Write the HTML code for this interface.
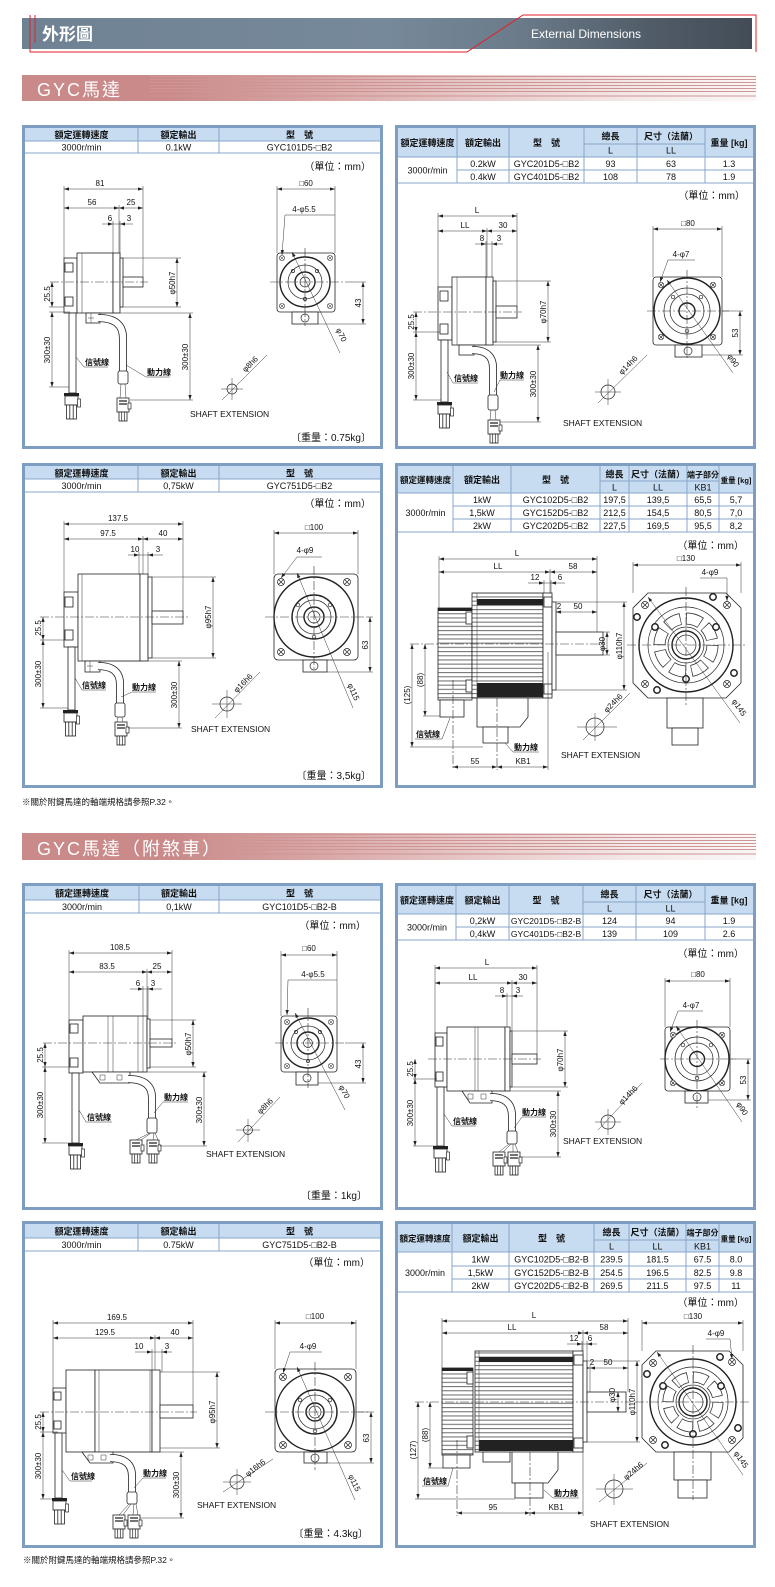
<!DOCTYPE html>
<html><head><meta charset="utf-8">
<style>
html,body{margin:0;padding:0;background:#fff;}
body{width:775px;height:1587px;position:relative;overflow:hidden;font-family:"Liberation Sans","Noto Sans CJK TC",sans-serif;}
.hb{position:absolute;left:22px;top:18px;width:730px;height:31px;background:linear-gradient(90deg,#6f8294 0%,#76899a 50%,#6b7b8a 68%,#515c68 86%,#434c57 100%);}
.sb{position:absolute;left:22px;width:734px;height:26px;background:linear-gradient(90deg,#c98a89 0%,#c98a89 20%,#d6a3a2 38%,#e6c6c6 60%,#f3e6e6 82%,#fbf7f7 100%);}
svg{position:absolute;left:0;top:0;}
.pb{fill:#fff;stroke:#7d9dc1;stroke-width:3}
.tl{fill:none;stroke:#87a5c8;stroke-width:1}
.th{font:bold 9px "Liberation Sans","Noto Sans CJK TC",sans-serif;text-anchor:middle;fill:#111}
.td{font:9px "Liberation Sans","Noto Sans CJK TC",sans-serif;text-anchor:middle;fill:#111}
.un{font:10px "Liberation Sans","Noto Sans CJK TC",sans-serif;text-anchor:end;fill:#111}
.dt{font:8px "Liberation Sans","Noto Sans CJK TC",sans-serif;text-anchor:middle;fill:#111}
.lb{font:bold 8px "Liberation Sans","Noto Sans CJK TC",sans-serif;fill:#111}
.se{font:8.5px "Liberation Sans",sans-serif;fill:#111}
.nt{font:8.5px "Liberation Sans","Noto Sans CJK TC",sans-serif;fill:#111}
.o{fill:#fff;stroke:#222;stroke-width:.8}
.of{fill:url(#fin);stroke:#222;stroke-width:.8}
.o2{fill:none;stroke:#222;stroke-width:1.4}
.ol{fill:none;stroke:#222;stroke-width:.7}
.l{fill:none;stroke:#333;stroke-width:.5}
.d{fill:none;stroke:#333;stroke-width:.5;marker-start:url(#a);marker-end:url(#a)}
.e{fill:none;stroke:#333;stroke-width:.5;marker-end:url(#a)}
.c{fill:none;stroke:#333;stroke-width:.6;stroke-dasharray:9 2 2 2}
.cb1{fill:none;stroke:#222;stroke-width:8}
.cb2{fill:none;stroke:#fff;stroke-width:6.4}
.dk{fill:#222}
</style></head><body>
<div class="hb"></div>
<div class="sb" style="top:75px"></div>
<div class="sb" style="top:833px;height:27px"></div>
<svg width="775" height="1587" viewBox="0 0 775 1587">
<defs>
<marker id="a" viewBox="0 0 6 4" markerWidth="5" markerHeight="3.4" refX="6" refY="2" orient="auto-start-reverse" markerUnits="userSpaceOnUse"><path d="M0,0L6,2L0,4z" fill="#222"/></marker>
<pattern id="fin" width="6" height="4.2" patternUnits="userSpaceOnUse"><rect width="6" height="4.2" fill="#fff"/><rect width="6" height="1.1" fill="#777"/></pattern>
<g id="sc">
<rect x="0" y="0" width="15" height="3" fill="#222"/>
<rect x="1" y="3" width="13" height="9" fill="#fff" stroke="#222" stroke-width=".8"/>
<rect x="13.5" y="6" width="3" height="8" fill="#fff" stroke="#222" stroke-width=".7"/>
<rect x="2.5" y="12" width="10" height="14" fill="#fff" stroke="#222" stroke-width=".8"/>
<path d="M5.8,12v14M9.2,12v14" stroke="#222" stroke-width=".8"/>
</g>
<g id="pc">
<rect x="0" y="0" width="12" height="14" fill="#fff" stroke="#222" stroke-width=".8"/>
<path d="M2,3h8M2,6h8" stroke="#222" stroke-width="1.2"/>
<rect x="11" y="5" width="3" height="6" fill="#fff" stroke="#222" stroke-width=".7"/>
<rect x="2" y="14" width="8" height="9" fill="#fff" stroke="#222" stroke-width=".8"/>
<path d="M4.7,14v9M7.3,14v9" stroke="#222" stroke-width=".7"/>
</g>
<g id="xh"><circle r="3.5" fill="#fff" stroke="#222" stroke-width=".7"/><path d="M-2.5,-2.5L2.5,2.5M-2.5,2.5L2.5,-2.5" stroke="#222" stroke-width=".7"/></g>
</defs>

<!-- header -->
<path d="M30,15V52H467L523,15H756V52M35,15V43" fill="none" stroke="#e0202a" stroke-width="1"/>
<text x="42" y="40" font-size="17" font-weight="bold" fill="#fff" font-family="Liberation Sans, Noto Sans CJK TC, sans-serif">外形圖</text>
<text x="531" y="38" font-size="12" fill="#fff" font-family="Liberation Sans, sans-serif">External Dimensions</text>

<!-- section bars -->
<g stroke="#cf9494" stroke-width="1">
<path d="M150,76.5H756M150,79.5H756M150,82.5H756M150,85.5H756M150,88.5H756M150,91.5H756M150,96H756"/>
<path d="M230,834.5H756M230,837.5H756M230,840.5H756M230,843.5H756M230,846.5H756M230,849.5H756M230,854H756"/>
</g>
<text x="37" y="96" font-size="18" fill="#fff" letter-spacing="2" font-family="Liberation Sans, Noto Sans CJK TC, sans-serif">GYC馬達</text>
<text x="37" y="855" font-size="18" fill="#fff" letter-spacing="2" font-family="Liberation Sans, Noto Sans CJK TC, sans-serif">GYC馬達（附煞車）</text>

<text class="nt" x="22" y="805">※關於附鍵馬達的軸端規格請參照P.32。</text>
<text class="nt" x="23" y="1563">※關於附鍵馬達的軸端規格請參照P.32。</text>

<!-- ================= PANEL A ================= -->
<rect class="pb" x="23.5" y="126.5" width="358" height="321"/>
<rect x="25" y="128" width="355" height="13" fill="#c7dcf1"/>
<path class="tl" d="M25,141H380M25,153H380M138,128V153M219,128V153"/>
<text class="th" x="81.5" y="138">額定運轉速度</text>
<text class="th" x="178.5" y="138">額定輸出</text>
<text class="th" x="299.5" y="138">型　號</text>
<text class="td" x="81.5" y="150.5">3000r/min</text>
<text class="td" x="178.5" y="150.5">0.1kW</text>
<text class="td" x="299.5" y="150.5">GYC101D5-□B2</text>
<text class="un" x="371" y="170">（單位：mm）</text>
<path class="l" d="M64,186V258M143,186V277M119,205V253M113,221V253M120,221V258"/>
<path class="d" d="M64,189H143"/>
<path class="d" d="M64,208H119"/><path class="d" d="M119,208H143"/>
<path class="e" d="M102,224H113"/><path class="l" d="M113,224H120"/><path class="e" d="M133,224H120"/>
<text class="dt" x="100" y="186">81</text>
<text class="dt" x="92" y="205">56</text><text class="dt" x="131" y="205">25</text>
<text class="dt" x="110" y="221">6</text><text class="dt" x="129" y="221">3</text>
<rect class="o" x="64" y="258" width="13" height="55"/>
<rect class="o" x="65" y="263" width="8" height="9"/><rect class="o" x="65" y="297" width="8" height="9"/>
<rect class="o" x="77" y="253" width="36" height="60"/>
<path class="l" d="M82,253V313"/>
<rect class="o" x="113" y="253" width="7" height="60"/>
<rect class="o" x="120" y="258" width="3" height="49"/>
<rect class="o" x="123" y="277" width="20" height="10"/>
<path class="c" d="M50,282H148"/>
<path class="l" d="M123,258H181M123,307H181"/>
<path class="d" d="M177,258V307"/>
<text class="dt" transform="translate(175,283) rotate(-90)">φ50h7</text>
<path class="l" d="M49,307H64M49,312H70M49,387H70"/>
<path class="d" d="M52,282V307"/><path class="d" d="M52,312V387"/>
<text class="dt" transform="translate(50,294) rotate(-90)">25.5</text>
<text class="dt" transform="translate(50,350) rotate(-90)">300±30</text>
<rect class="o" x="69" y="313" width="7" height="80"/>
<use href="#sc" x="64" y="393"/>
<path class="l" d="M76,357L84,367H108"/>
<text class="lb" x="85" y="365">信號線</text>
<rect class="o" x="86" y="313" width="14" height="10"/>
<path class="l" d="M91,313v10M88,318h6"/>
<path class="cb1" d="M98,318Q123,318 123,338V372"/>
<path class="cb2" d="M98,318Q123,318 123,338V372"/>
<rect class="o" x="118" y="371" width="10" height="13" rx="2"/>
<path class="l" d="M121,384l-1,14M125,384l1,14"/>
<use href="#pc" x="117" y="398"/>
<path class="l" d="M126,365L146,377H170"/>
<text class="lb" x="147" y="375">動力線</text>
<path class="l" d="M100,313H193M130,400H193"/>
<path class="d" d="M190,313V400"/>
<text class="dt" transform="translate(188,357) rotate(-90)">300±30</text>
<rect class="o" x="277" y="253" width="58" height="59" rx="3"/>
<circle class="o2" cx="305" cy="282" r="25"/>
<circle class="ol" cx="305" cy="282" r="17"/>
<circle class="o2" cx="305" cy="282" r="10"/>
<circle class="ol" cx="305" cy="282" r="5"/>
<use href="#xh" transform="translate(282,258) scale(.75)"/><use href="#xh" transform="translate(330,258) scale(.75)"/>
<use href="#xh" transform="translate(282,306) scale(.75)"/><use href="#xh" transform="translate(330,306) scale(.75)"/>
<circle class="ol" cx="293" cy="271" r="1.6"/><circle class="ol" cx="317" cy="271" r="1.6"/><circle class="ol" cx="305" cy="299" r="1.6"/>
<rect class="o" x="292" y="312" width="26" height="12"/>
<circle class="ol" cx="305" cy="318" r="4"/>
<path class="c" d="M270,282H345M305,248V326"/>
<path class="l" d="M277,186V253M335,186V253"/>
<path class="d" d="M277,189H335"/>
<text class="dt" x="306" y="186">□60</text>
<text class="dt" x="304" y="212">4-φ5.5</text>
<path class="l" d="M285,215H335"/><path class="e" d="M285,215L282,255"/>
<path class="l" d="M345,282H366M318,324H366"/>
<path class="d" d="M363,282V324"/>
<text class="dt" transform="translate(361,303) rotate(-90)">43</text>
<path class="e" d="M340,353L292,252"/>
<text class="dt" transform="translate(339,336) rotate(64)">φ70</text>
<circle class="ol" cx="232" cy="389" r="5"/>
<path class="l" d="M221,389H243M232,378V400"/>
<path class="l" d="M222,400L267,355"/>
<text class="dt" transform="translate(252,366) rotate(-45)">φ8h6</text>
<text class="se" x="190" y="417">SHAFT EXTENSION</text>
<text class="un" x="371" y="441">〔重量：0.75kg〕</text>

<!-- ================= PANEL B ================= -->
<rect class="pb" x="396.5" y="126.5" width="358" height="321"/>
<rect x="398" y="128" width="355" height="29" fill="#c7dcf1"/>
<path class="tl" d="M584,144H705M398,157H753M457,170H753M398,183H753M457,128V183M509,128V183M584,128V183M637,128V183M705,128V183"/>
<text class="th" x="427.5" y="146">額定運轉速度</text>
<text class="th" x="483" y="146">額定輸出</text>
<text class="th" x="546.5" y="146">型　號</text>
<text class="th" x="610.5" y="139.5">總長</text>
<text class="td" x="610.5" y="153.5">L</text>
<text class="th" x="671" y="139.5">尺寸（法蘭）</text>
<text class="td" x="671" y="153.5">LL</text>
<text class="th" x="729" y="146">重量 [kg]</text>
<text class="td" x="427.5" y="173.5">3000r/min</text>
<text class="td" x="483" y="167">0.2kW</text><text class="td" x="546.5" y="167">GYC201D5-□B2</text>
<text class="td" x="610.5" y="167">93</text><text class="td" x="671" y="167">63</text><text class="td" x="729" y="167">1.3</text>
<text class="td" x="483" y="180">0.4kW</text><text class="td" x="546.5" y="180">GYC401D5-□B2</text>
<text class="td" x="610.5" y="180">108</text><text class="td" x="671" y="180">78</text><text class="td" x="729" y="180">1.9</text>
<text class="un" x="745" y="199">（單位：mm）</text>
<path class="l" d="M438,213V287M517,213V306M487,228V277M486,241V277M492,241V281"/>
<path class="d" d="M438,216H517"/>
<path class="d" d="M438,231H487"/><path class="d" d="M487,231H517"/>
<path class="e" d="M475,244H486"/><path class="l" d="M486,244H492"/><path class="e" d="M503,244H492"/>
<text class="dt" x="477" y="213">L</text>
<text class="dt" x="465" y="228">LL</text><text class="dt" x="503" y="228">30</text>
<text class="dt" x="482" y="241">8</text><text class="dt" x="499" y="241">3</text>
<rect class="o" x="438" y="287" width="14" height="53"/>
<rect class="o" x="440" y="291" width="8" height="10"/><rect class="o" x="440" y="324" width="8" height="10"/>
<rect class="o" x="452" y="277" width="34" height="68"/>
<path class="l" d="M457,277V345"/>
<rect class="o" x="486" y="277" width="7" height="68"/>
<rect class="o" x="493" y="281" width="3" height="61"/>
<rect class="o" x="496" y="306" width="21" height="12"/>
<path class="c" d="M413,312H522"/>
<path class="l" d="M496,281H551M496,342H551"/>
<path class="d" d="M548,281V342"/>
<text class="dt" transform="translate(546,312) rotate(-90)">φ70h7</text>
<path class="l" d="M413,332H440M413,400H444"/>
<path class="d" d="M416,312V332"/><path class="d" d="M416,332V400"/>
<text class="dt" transform="translate(414,322) rotate(-90)">25.5</text>
<text class="dt" transform="translate(414,366) rotate(-90)">300±30</text>
<rect class="o" x="441" y="340" width="7" height="62"/>
<use href="#sc" x="437" y="402"/>
<path class="l" d="M447,372L453,383H478"/>
<text class="lb" x="454" y="381">信號線</text>
<rect class="o" x="459" y="345" width="15" height="10"/>
<path class="cb1" d="M472,350Q493,350 493,368V396"/>
<path class="cb2" d="M472,350Q493,350 493,368V396"/>
<rect class="o" x="488" y="395" width="10" height="15" rx="2"/>
<path class="l" d="M491,410l-1,10M495,410l1,10"/>
<use href="#pc" x="488" y="420"/>
<path class="l" d="M494,392L500,380H524"/>
<text class="lb" x="500" y="378">動力線</text>
<path class="l" d="M474,345H541M500,422H541"/>
<path class="d" d="M538,345V422"/>
<text class="dt" transform="translate(536,384) rotate(-90)">300±30</text>
<rect class="o" x="653" y="277" width="69" height="68" rx="3"/>
<circle class="o2" cx="687" cy="311" r="33"/>
<circle class="ol" cx="687" cy="311" r="23"/>
<circle class="ol" cx="687" cy="311" r="17"/>
<circle class="o2" cx="687" cy="311" r="8"/>
<use href="#xh" transform="translate(661,285) scale(.8)"/><use href="#xh" transform="translate(713,285) scale(.8)"/>
<use href="#xh" transform="translate(661,337) scale(.8)"/><use href="#xh" transform="translate(713,337) scale(.8)"/>
<circle class="ol" cx="673" cy="297" r="1.8"/><circle class="ol" cx="701" cy="297" r="1.8"/><circle class="ol" cx="687" cy="331" r="1.8"/>
<rect class="o" x="675" y="345" width="27" height="12"/>
<circle class="ol" cx="688" cy="351" r="4"/>
<path class="c" d="M647,311H729M687,270V360"/>
<path class="l" d="M653,226V277M722,226V277"/>
<path class="d" d="M653,229H722"/>
<text class="dt" x="688" y="226">□80</text>
<text class="dt" x="681" y="257">4-φ7</text>
<path class="l" d="M668,260H695"/><path class="e" d="M668,260L660,282"/>
<path class="l" d="M722,311H743M702,355H743"/>
<path class="d" d="M740,311V355"/>
<text class="dt" transform="translate(738,333) rotate(-90)">53</text>
<path class="e" d="M733,373L667,280"/>
<text class="dt" transform="translate(731,362) rotate(55)">φ90</text>
<circle class="ol" cx="608" cy="392" r="7"/>
<path class="l" d="M595,392H621M608,379V405"/>
<path class="l" d="M598,403L647,355"/>
<text class="dt" transform="translate(630,367) rotate(-45)">φ14h6</text>
<text class="se" x="563" y="426">SHAFT EXTENSION</text>

<!-- ================= PANEL C ================= -->
<rect class="pb" x="23.5" y="464.5" width="358" height="322"/>
<rect x="25" y="466" width="355" height="13" fill="#c7dcf1"/>
<path class="tl" d="M25,479H380M25,492H380M138,466V492M219,466V492"/>
<text class="th" x="81.5" y="476.5">額定運轉速度</text>
<text class="th" x="178.5" y="476.5">額定輸出</text>
<text class="th" x="299.5" y="476.5">型　號</text>
<text class="td" x="81.5" y="489">3000r/min</text>
<text class="td" x="178.5" y="489">0,75kW</text>
<text class="td" x="299.5" y="489">GYC751D5-□B2</text>
<text class="un" x="371" y="507">（單位：mm）</text>
<path class="l" d="M64,521V592M183,521V611M143,536V574M139,552V574M148,552V577"/>
<path class="d" d="M64,524H183"/>
<path class="d" d="M64,539H143"/><path class="d" d="M143,539H183"/>
<path class="e" d="M128,555H139"/><path class="l" d="M139,555H148"/><path class="e" d="M163,555H148"/>
<text class="dt" x="118" y="521">137.5</text>
<text class="dt" x="108" y="536">97.5</text><text class="dt" x="163" y="536">40</text>
<text class="dt" x="135" y="552">10</text><text class="dt" x="158" y="552">3</text>
<rect class="o" x="64" y="592" width="14" height="55"/>
<rect class="o" x="65" y="597" width="8" height="10"/><rect class="o" x="65" y="630" width="8" height="10"/>
<rect class="o" x="78" y="574" width="62" height="87"/>
<path class="l" d="M82,574V661"/>
<rect class="o" x="140" y="574" width="8" height="87"/>
<rect class="o" x="148" y="577" width="4" height="81"/>
<rect class="o" x="152" y="611" width="31" height="13"/>
<path class="c" d="M40,617H190"/>
<path class="l" d="M152,577H216M152,658H216"/>
<path class="d" d="M213,577V658"/>
<text class="dt" transform="translate(211,617) rotate(-90)">φ95h7</text>
<path class="l" d="M40,640H66M40,708H70"/>
<path class="d" d="M43,617V640"/><path class="d" d="M43,640V708"/>
<text class="dt" transform="translate(41,628) rotate(-90)">25.5</text>
<text class="dt" transform="translate(41,674) rotate(-90)">300±30</text>
<rect class="o" x="68" y="647" width="7" height="63"/>
<use href="#sc" x="63" y="710"/>
<path class="l" d="M75,678L82,690H106"/>
<text class="lb" x="82" y="688">信號線</text>
<rect class="o" x="85" y="661" width="15" height="11"/>
<path class="l" d="M90,661v11M87,666h6"/>
<path class="cb1" d="M98,666Q120,666 120,684V704"/>
<path class="cb2" d="M98,666Q120,666 120,684V704"/>
<rect class="o" x="115" y="703" width="10" height="14" rx="2"/>
<path class="l" d="M118,717l-1,5M122,717l1,5"/>
<use href="#pc" x="115" y="722"/>
<path class="l" d="M121,697L132,692H156"/>
<text class="lb" x="132" y="690">動力線</text>
<path class="l" d="M100,661H182M128,728H182"/>
<path class="d" d="M179,661V728"/>
<text class="dt" transform="translate(177,695) rotate(-90)">300±30</text>
<rect class="o" x="274" y="574" width="84" height="86" rx="4"/>
<circle class="o2" cx="314" cy="617" r="40"/>
<circle class="o2" cx="314" cy="617" r="22"/>
<circle class="ol" cx="314" cy="617" r="17"/>
<circle class="o2" cx="314" cy="617" r="10"/>
<circle class="ol" cx="314" cy="617" r="6"/>
<use href="#xh" x="281" y="582"/><use href="#xh" x="347" y="582"/>
<use href="#xh" x="281" y="652"/><use href="#xh" x="347" y="652"/>
<circle class="ol" cx="298" cy="605" r="1.8"/><circle class="ol" cx="330" cy="605" r="1.8"/><circle class="ol" cx="314" cy="637" r="1.8"/>
<rect class="o" x="303" y="660" width="24" height="12"/>
<circle class="ol" cx="314" cy="666" r="4"/>
<path class="c" d="M265,617H366M314,566V670"/>
<path class="l" d="M274,530V574M358,530V574"/>
<path class="d" d="M274,533H358"/>
<text class="dt" x="314" y="530">□100</text>
<text class="dt" x="305" y="553">4-φ9</text>
<path class="l" d="M297,557H322"/><path class="e" d="M297,557L281,578"/>
<path class="l" d="M366,617H373M327,672H373"/>
<path class="d" d="M370,617V672"/>
<text class="dt" transform="translate(368,645) rotate(-90)">63</text>
<path class="e" d="M353,708L297,573"/>
<text class="dt" transform="translate(351,693) rotate(66)">φ115</text>
<circle class="ol" cx="227" cy="704" r="7"/>
<path class="l" d="M212,704H242M227,690V718"/>
<path class="l" d="M215,718L260,672"/>
<text class="dt" transform="translate(245,685) rotate(-45)">φ16h6</text>
<text class="se" x="191" y="732">SHAFT EXTENSION</text>
<text class="un" x="371" y="779">〔重量：3,5kg〕</text>

<!-- ================= PANEL D ================= -->
<rect class="pb" x="396.5" y="464.5" width="358" height="322"/>
<rect x="398" y="466" width="355" height="27" fill="#c7dcf1"/>
<path class="tl" d="M600,481H719M398,493H753M453,506H753M453,519H753M398,532H753M453,466V532M511,466V532M600,466V532M629,466V532M687,466V532M719,466V532"/>
<text class="th" x="425.5" y="483" style="font-size:8.5px">額定運轉速度</text>
<text class="th" x="482" y="483">額定輸出</text>
<text class="th" x="555.5" y="483">型　號</text>
<text class="th" x="614.5" y="477.5">總長</text><text class="td" x="614.5" y="490.5">L</text>
<text class="th" x="658" y="477.5">尺寸（法蘭）</text><text class="td" x="658" y="490.5">LL</text>
<text class="th" x="703" y="477.5" style="font-size:8px">端子部分</text><text class="td" x="703" y="490.5">KB1</text>
<text class="th" x="736" y="483" style="font-size:7.5px">重量 [kg]</text>
<text class="td" x="425.5" y="516">3000r/min</text>
<text class="td" x="482" y="503">1kW</text><text class="td" x="555.5" y="503">GYC102D5-□B2</text><text class="td" x="614.5" y="503">197,5</text><text class="td" x="658" y="503">139,5</text><text class="td" x="703" y="503">65,5</text><text class="td" x="736" y="503">5,7</text>
<text class="td" x="482" y="516">1,5kW</text><text class="td" x="555.5" y="516">GYC152D5-□B2</text><text class="td" x="614.5" y="516">212,5</text><text class="td" x="658" y="516">154,5</text><text class="td" x="703" y="516">80,5</text><text class="td" x="736" y="516">7,0</text>
<text class="td" x="482" y="529">2kW</text><text class="td" x="555.5" y="529">GYC202D5-□B2</text><text class="td" x="614.5" y="529">227,5</text><text class="td" x="658" y="529">169,5</text><text class="td" x="703" y="529">95,5</text><text class="td" x="736" y="529">8,2</text>
<text class="un" x="744" y="549">（單位：mm）</text>
<path class="l" d="M439,556V608M597,556V632M550,569V593M544,580V593M551,580V602M556,609V632"/>
<path class="d" d="M439,559H597"/>
<path class="d" d="M439,572H550"/><path class="d" d="M550,572H597"/>
<path class="e" d="M528,583H544"/><path class="l" d="M544,583H551"/><path class="e" d="M565,583H551"/>
<path class="e" d="M548,612H556"/><path class="d" d="M556,612H597"/>
<text class="dt" x="517" y="556">L</text>
<text class="dt" x="498" y="569">LL</text><text class="dt" x="573" y="569">58</text>
<text class="dt" x="535" y="580">12</text><text class="dt" x="560" y="580">6</text>
<text class="dt" x="559" y="609">2</text><text class="dt" x="578" y="609">50</text>
<rect class="of" x="438" y="608" width="34" height="92"/>
<rect class="dk" x="438" y="608" width="34" height="3"/>
<rect class="o" x="466" y="612" width="6" height="12"/><rect class="o" x="466" y="680" width="6" height="12"/>
<rect class="o" x="440" y="700" width="24" height="17"/>
<rect class="of" x="472" y="593" width="71" height="105"/>
<rect class="dk" x="477" y="599" width="66" height="6"/>
<rect class="dk" x="477" y="683" width="66" height="14"/>
<path class="l" d="M477,593V698"/>
<rect class="o" x="543" y="593" width="9" height="105"/>
<rect class="o" x="544" y="597" width="8" height="10"/><rect class="o" x="544" y="684" width="8" height="10"/>
<rect class="o" x="552" y="602" width="4" height="88"/>
<rect class="o" x="556" y="632" width="47" height="23"/>
<path class="o" d="M477,698H528V717L520,727H477Z"/>
<rect class="o" x="483" y="727" width="25" height="16"/>
<path class="c" d="M410,644H604"/>
<path class="c" d="M497,698V770M453,680V770"/>
<path class="l" d="M556,602H627M556,690H627M603,632H610M603,655H610"/>
<path class="d" d="M607,632V655"/><path class="d" d="M624,602V690"/>
<text class="dt" transform="translate(605,644) rotate(-90)">φ30</text>
<text class="dt" transform="translate(622,646) rotate(-90)">φ110h7</text>
<path class="l" d="M410,747H483M423,716H440"/>
<path class="d" d="M412,644V747"/><path class="d" d="M425,644V716"/>
<text class="dt" transform="translate(410,695) rotate(-90)">(125)</text>
<text class="dt" transform="translate(423,680) rotate(-90)">(88)</text>
<path class="l" d="M450,718L442,739H415"/>
<text class="lb" x="416" y="737">信號線</text>
<path class="l" d="M505,743L513,752H539"/>
<text class="lb" x="514" y="750">動力線</text>
<path class="l" d="M548,652V770"/>
<path class="d" d="M453,767H497"/><path class="d" d="M497,767H548"/>
<text class="dt" x="475" y="764">55</text><text class="dt" x="523" y="764">KB1</text>
<path class="o" d="M648,593H726L741,608V683L726,698H648L633,683V608Z"/>
<circle class="o2" cx="686" cy="645" r="47"/>
<circle class="ol" cx="686" cy="645" r="38"/>
<circle cx="686" cy="645" r="26.5" fill="none" stroke="#333" stroke-width="12" stroke-dasharray="15.3 5.5"/>
<circle cx="686" cy="645" r="26.5" fill="none" stroke="#fff" stroke-width="10.4" stroke-dasharray="13.9 6.9" stroke-dashoffset="-0.7"/>
<circle class="ol" cx="686" cy="645" r="18"/>
<circle class="o2" cx="686" cy="645" r="14"/>
<circle class="ol" cx="686" cy="645" r="10"/>
<use href="#xh" x="645" y="605"/><use href="#xh" x="727" y="605"/><use href="#xh" x="645" y="684"/><use href="#xh" x="727" y="684"/>
<circle cx="637" cy="617" r="3.2" fill="#fff" stroke="#222" stroke-width="1.5"/><circle cx="713" cy="597" r="3.2" fill="#fff" stroke="#222" stroke-width="1.5"/>
<circle cx="734" cy="673" r="3.2" fill="#fff" stroke="#222" stroke-width="1.5"/><circle cx="657" cy="690" r="3.2" fill="#fff" stroke="#222" stroke-width="1.5"/>
<circle cx="655" cy="627" r="3.2" fill="#fff" stroke="#222" stroke-width="1.5"/><circle cx="716" cy="627" r="3.2" fill="#fff" stroke="#222" stroke-width="1.5"/><circle cx="686" cy="679" r="3.2" fill="#fff" stroke="#222" stroke-width="1.5"/>
<rect class="o" x="667" y="698" width="36" height="30"/>
<rect class="o" x="672" y="728" width="26" height="17"/>
<path class="c" d="M627,645H745M686,587V705"/>
<path class="l" d="M633,562V593M741,562V593"/>
<path class="d" d="M633,565H741"/>
<text class="dt" x="686" y="561">□130</text>
<text class="dt" x="710" y="575">4-φ9</text>
<path class="l" d="M700,578H727"/><path class="e" d="M727,578V601"/>
<path class="e" d="M740,723L648,597"/>
<text class="dt" transform="translate(737,709) rotate(55)">φ145</text>
<circle class="ol" cx="595" cy="727" r="9"/>
<path class="l" d="M577,727H617M595,713V741"/>
<path class="l" d="M583,740L630,693"/>
<text class="dt" transform="translate(615,705) rotate(-45)">φ24h6</text>
<text class="se" x="561" y="758">SHAFT EXTENSION</text>

<!-- ================= PANEL E ================= -->
<rect class="pb" x="23.5" y="884.5" width="358" height="324"/>
<rect x="25" y="886" width="355" height="14" fill="#c7dcf1"/>
<path class="tl" d="M25,900H380M25,913H380M139,886V913M219,886V913"/>
<text class="th" x="82" y="896.5">額定運轉速度</text>
<text class="th" x="179" y="896.5">額定輸出</text>
<text class="th" x="299.5" y="896.5">型　號</text>
<text class="td" x="82" y="910">3000r/min</text>
<text class="td" x="179" y="910">0,1kW</text>
<text class="td" x="299.5" y="910">GYC101D5-□B2-B</text>
<text class="un" x="366" y="929">（單位：mm）</text>
<path class="l" d="M69,950V1020M172,950V1040M147,969V1016M143,986V1016M148,986V1019"/>
<path class="d" d="M69,953H172"/>
<path class="d" d="M69,972H147"/><path class="d" d="M147,972H172"/>
<path class="e" d="M130,989H143"/><path class="l" d="M143,989H148"/><path class="e" d="M162,989H148"/>
<text class="dt" x="120" y="950">108.5</text>
<text class="dt" x="107" y="969">83.5</text><text class="dt" x="157" y="969">25</text>
<text class="dt" x="138" y="986">6</text><text class="dt" x="153" y="986">3</text>
<rect class="o" x="69" y="1020" width="14" height="53"/>
<rect class="o" x="70" y="1024" width="8" height="9"/><rect class="o" x="70" y="1058" width="8" height="9"/>
<rect class="o" x="83" y="1016" width="64" height="56"/>
<path class="l" d="M108,1016V1072M113,1016V1072M138,1016V1072M143,1016V1072"/>
<rect class="o" x="147" y="1019" width="3" height="49"/>
<rect class="o" x="150" y="1039" width="22" height="8"/>
<path class="c" d="M43,1043H177"/>
<path class="l" d="M150,1020H196M150,1067H196"/>
<path class="d" d="M193,1020V1067"/>
<text class="dt" transform="translate(191,1044) rotate(-90)">φ50h7</text>
<path class="l" d="M42,1067H69M42,1143H72"/>
<path class="d" d="M45,1043V1067"/><path class="d" d="M45,1067V1143"/>
<text class="dt" transform="translate(43,1055) rotate(-90)">25.5</text>
<text class="dt" transform="translate(43,1105) rotate(-90)">300±30</text>
<path class="o" d="M92,1072H130V1083H100Z"/>
<path class="l" d="M100,1075h5v5h-5zM117,1075h5v5h-5z"/>
<rect class="o" x="72" y="1073" width="7" height="70"/>
<use href="#sc" x="68" y="1143"/>
<path class="l" d="M79,1110L86,1122H112"/>
<text class="lb" x="87" y="1120">信號線</text>
<path class="cb1" d="M128,1079Q152,1079 152,1098V1119"/>
<path class="cb2" d="M128,1079Q152,1079 152,1098V1119"/>
<rect class="o" x="147" y="1118" width="10" height="15" rx="2"/>
<path class="l" d="M150,1133L136,1140M154,1133L153,1140M151,1133L141,1140M155,1133L158,1140"/>
<use href="#pc" x="130" y="1140"/><use href="#pc" x="147" y="1140"/>
<path class="l" d="M154,1113L163,1102H188"/>
<text class="lb" x="164" y="1100">動力線</text>
<path class="l" d="M130,1072H207M160,1146H207"/>
<path class="d" d="M204,1072V1146"/>
<text class="dt" transform="translate(202,1110) rotate(-90)">300±30</text>
<rect class="o" x="281" y="1016" width="56" height="56" rx="3"/>
<circle class="o2" cx="308" cy="1043" r="25"/>
<circle class="ol" cx="308" cy="1043" r="17"/>
<circle class="o2" cx="308" cy="1043" r="11"/>
<circle class="ol" cx="308" cy="1043" r="4.5"/>
<use href="#xh" transform="translate(287,1022) scale(.75)"/><use href="#xh" transform="translate(331,1022) scale(.75)"/>
<use href="#xh" transform="translate(287,1066) scale(.75)"/><use href="#xh" transform="translate(331,1066) scale(.75)"/>
<circle class="ol" cx="296" cy="1032" r="1.6"/><circle class="ol" cx="320" cy="1032" r="1.6"/><circle class="ol" cx="308" cy="1061" r="1.6"/>
<rect class="o" x="296" y="1072" width="22" height="13"/>
<circle class="ol" cx="307" cy="1078" r="4"/>
<path class="c" d="M275,1043H345M308,1008V1088"/>
<path class="l" d="M281,951V1016M337,951V1016"/>
<path class="d" d="M281,955H337"/>
<text class="dt" x="309" y="951">□60</text>
<text class="dt" x="313" y="977">4-φ5.5</text>
<path class="l" d="M288,980H337"/><path class="e" d="M288,980L287,1015"/>
<path class="l" d="M345,1043H366M318,1083H366"/>
<path class="d" d="M363,1043V1083"/>
<text class="dt" transform="translate(361,1064) rotate(-90)">43</text>
<path class="e" d="M345,1110L295,1013"/>
<text class="dt" transform="translate(342,1093) rotate(62)">φ70</text>
<circle class="ol" cx="248" cy="1130" r="4.5"/>
<path class="l" d="M236,1130H260M248,1119V1142"/>
<path class="l" d="M238,1142L280,1097"/>
<text class="dt" transform="translate(267,1108) rotate(-45)">φ8h6</text>
<text class="se" x="206" y="1157">SHAFT EXTENSION</text>
<text class="un" x="367" y="1199">〔重量：1kg〕</text>

<!-- ================= PANEL F ================= -->
<rect class="pb" x="396.5" y="884.5" width="358" height="324"/>
<rect x="398" y="886" width="355" height="28" fill="#c7dcf1"/>
<path class="tl" d="M583,902H705M398,914H753M456,927H753M398,940H753M456,886V940M509,886V940M583,886V940M636,886V940M705,886V940"/>
<text class="th" x="427" y="903.5">額定運轉速度</text>
<text class="th" x="482.5" y="903.5">額定輸出</text>
<text class="th" x="546" y="903.5">型　號</text>
<text class="th" x="609.5" y="897.5">總長</text><text class="td" x="609.5" y="911.5">L</text>
<text class="th" x="670.5" y="897.5">尺寸（法蘭）</text><text class="td" x="670.5" y="911.5">LL</text>
<text class="th" x="729" y="903.5">重量 [kg]</text>
<text class="td" x="427" y="930.5">3000r/min</text>
<text class="td" x="482.5" y="924">0,2kW</text><text class="td" x="546" y="924" style="font-size:8.5px">GYC201D5-□B2-B</text><text class="td" x="609.5" y="924">124</text><text class="td" x="670.5" y="924">94</text><text class="td" x="729" y="924">1.9</text>
<text class="td" x="482.5" y="937">0,4kW</text><text class="td" x="546" y="937" style="font-size:8.5px">GYC401D5-□B2-B</text><text class="td" x="609.5" y="937">139</text><text class="td" x="670.5" y="937">109</text><text class="td" x="729" y="937">2.6</text>
<text class="un" x="744" y="957">（單位：mm）</text>
<path class="l" d="M435,965V1033M537,965V1054M512,980V1031M507,993V1027"/>
<path class="d" d="M435,968H537"/>
<path class="d" d="M435,983H512"/><path class="d" d="M512,983H537"/>
<path class="e" d="M495,996H507"/><path class="l" d="M507,996H512"/><path class="e" d="M523,996H512"/>
<text class="dt" x="487" y="965">L</text>
<text class="dt" x="473" y="980">LL</text><text class="dt" x="523" y="980">30</text>
<text class="dt" x="502" y="993">8</text><text class="dt" x="518" y="993">3</text>
<rect class="o" x="435" y="1033" width="12" height="54"/>
<rect class="o" x="436" y="1037" width="7" height="9"/><rect class="o" x="436" y="1072" width="7" height="9"/>
<rect class="o" x="447" y="1027" width="58" height="64"/>
<path class="l" d="M475,1027V1091M478,1027V1091"/>
<rect class="o" x="505" y="1027" width="5" height="64"/>
<rect class="o" x="510" y="1031" width="2" height="56"/>
<rect class="o" x="512" y="1054" width="25" height="10"/>
<path class="c" d="M428,1059H541"/>
<path class="l" d="M512,1031H568M512,1087H568"/>
<path class="d" d="M565,1031V1087"/>
<text class="dt" transform="translate(563,1060) rotate(-90)">φ70h7</text>
<path class="l" d="M413,1079H437M413,1146H440"/>
<path class="d" d="M415,1059V1079"/><path class="d" d="M415,1079V1146"/>
<text class="dt" transform="translate(413,1069) rotate(-90)">25.5</text>
<text class="dt" transform="translate(413,1113) rotate(-90)">300±30</text>
<path class="o" d="M462,1091H492V1103H470Z"/>
<path class="l" d="M468,1094h5v5h-5zM481,1094h5v5h-5z"/>
<rect class="o" x="437" y="1087" width="7" height="59"/>
<use href="#sc" x="433" y="1146"/>
<path class="l" d="M444,1114L452,1126H476"/>
<text class="lb" x="453" y="1124">信號線</text>
<path class="cb1" d="M490,1097Q512,1097 512,1116V1132"/>
<path class="cb2" d="M490,1097Q512,1097 512,1116V1132"/>
<rect class="o" x="507" y="1131" width="10" height="13" rx="2"/>
<path class="l" d="M509,1144L499,1152M511,1144L503,1152M513,1144L513,1152M515,1144L518,1152"/>
<use href="#pc" x="493" y="1152"/><use href="#pc" x="508" y="1152"/>
<path class="l" d="M514,1128L522,1117H546"/>
<text class="lb" x="522" y="1115">動力線</text>
<path class="l" d="M492,1091H561M520,1157H561"/>
<path class="d" d="M558,1091V1157"/>
<text class="dt" transform="translate(556,1124) rotate(-90)">300±30</text>
<rect class="o" x="665" y="1027" width="65" height="64" rx="3"/>
<circle class="o2" cx="697" cy="1059" r="32"/>
<circle class="ol" cx="697" cy="1059" r="22"/>
<circle class="ol" cx="697" cy="1059" r="16"/>
<circle class="o2" cx="697" cy="1059" r="7.5"/>
<use href="#xh" transform="translate(673,1035) scale(.8)"/><use href="#xh" transform="translate(722,1035) scale(.8)"/>
<use href="#xh" transform="translate(673,1083) scale(.8)"/><use href="#xh" transform="translate(722,1083) scale(.8)"/>
<circle class="ol" cx="683" cy="1045" r="1.8"/><circle class="ol" cx="711" cy="1045" r="1.8"/><circle class="ol" cx="697" cy="1078" r="1.8"/>
<rect class="o" x="685" y="1091" width="23" height="12"/>
<circle class="ol" cx="697" cy="1097" r="4"/>
<path class="c" d="M660,1059H736M697,1020V1108"/>
<path class="l" d="M665,978V1027M730,978V1027"/>
<path class="d" d="M665,981H730"/>
<text class="dt" x="698" y="977">□80</text>
<text class="dt" x="691" y="1008">4-φ7</text>
<path class="l" d="M678,1011H703"/><path class="e" d="M678,1011L670,1032"/>
<path class="l" d="M730,1059H751M708,1100H751"/>
<path class="d" d="M748,1059V1100"/>
<text class="dt" transform="translate(746,1080) rotate(-90)">53</text>
<path class="e" d="M742,1122L676,1026"/>
<text class="dt" transform="translate(740,1110) rotate(57)">φ90</text>
<circle class="ol" cx="608" cy="1122" r="7"/>
<path class="l" d="M595,1122H621M608,1109V1135"/>
<path class="l" d="M598,1130L642,1083"/>
<text class="dt" transform="translate(630,1097) rotate(-45)">φ14h6</text>
<text class="se" x="563" y="1144">SHAFT EXTENSION</text>

<!-- ================= PANEL G ================= -->
<rect class="pb" x="23.5" y="1222.5" width="358" height="324"/>
<rect x="25" y="1224" width="355" height="14" fill="#c7dcf1"/>
<path class="tl" d="M25,1238H380M25,1251H380M138,1224V1251M219,1224V1251"/>
<text class="th" x="81.5" y="1234.5">額定運轉速度</text>
<text class="th" x="178.5" y="1234.5">額定輸出</text>
<text class="th" x="299.5" y="1234.5">型　號</text>
<text class="td" x="81.5" y="1248">3000r/min</text>
<text class="td" x="178.5" y="1248">0.75kW</text>
<text class="td" x="299.5" y="1248">GYC751D5-□B2-B</text>
<text class="un" x="370" y="1266">（單位：mm）</text>
<path class="l" d="M53,1320V1388M193,1320V1405M155,1335V1370M152,1349V1370M162,1349V1372"/>
<path class="d" d="M53,1323H193"/>
<path class="d" d="M53,1338H155"/><path class="d" d="M155,1338H193"/>
<path class="e" d="M135,1352H152"/><path class="l" d="M152,1352H162"/><path class="e" d="M172,1352H162"/>
<text class="dt" x="117" y="1320">169.5</text>
<text class="dt" x="105" y="1335">129.5</text><text class="dt" x="175" y="1335">40</text>
<text class="dt" x="139" y="1349">10</text><text class="dt" x="167" y="1349">3</text>
<rect class="o" x="53" y="1388" width="13" height="45"/>
<rect class="o" x="54" y="1392" width="7" height="8"/><rect class="o" x="54" y="1421" width="7" height="8"/>
<rect class="o" x="66" y="1370" width="29" height="82"/>
<rect class="o" x="95" y="1370" width="57" height="82"/>
<path class="l" d="M99,1370V1452M150,1370V1452"/>
<rect class="o" x="152" y="1370" width="8" height="82"/>
<rect class="o" x="160" y="1405" width="33" height="13"/>
<path class="c" d="M40,1412H197"/>
<path class="l" d="M160,1372H220M160,1448H220"/>
<path class="d" d="M217,1372V1448"/>
<text class="dt" transform="translate(215,1412) rotate(-90)">φ95h7</text>
<path class="l" d="M40,1432H58M40,1499H60"/>
<path class="d" d="M43,1412V1432"/><path class="d" d="M43,1432V1499"/>
<text class="dt" transform="translate(41,1422) rotate(-90)">25.5</text>
<text class="dt" transform="translate(41,1466) rotate(-90)">300±30</text>
<path class="o" d="M82,1452H113V1463H90Z"/>
<path class="l" d="M88,1455h5v5h-5zM101,1455h5v5h-5z"/>
<rect class="o" x="55" y="1433" width="7" height="65"/>
<use href="#sc" x="52" y="1498"/>
<path class="l" d="M62,1470L70,1481H92"/>
<text class="lb" x="71" y="1479">信號線</text>
<path class="cb1" d="M110,1458Q132,1458 132,1476V1493"/>
<path class="cb2" d="M110,1458Q132,1458 132,1476V1493"/>
<rect class="o" x="127" y="1492" width="10" height="12" rx="2"/>
<path class="l" d="M129,1504L119,1515M131,1504L123,1515M134,1504L133,1515M136,1504L138,1515"/>
<use href="#pc" x="113" y="1515"/><use href="#pc" x="128" y="1515"/>
<path class="l" d="M134,1488L143,1478H166"/>
<text class="lb" x="143" y="1476">動力線</text>
<path class="l" d="M113,1452H184M140,1518H184"/>
<path class="d" d="M181,1452V1518"/>
<text class="dt" transform="translate(179,1485) rotate(-90)">300±30</text>
<rect class="o" x="275" y="1369" width="81" height="83" rx="4"/>
<circle class="o2" cx="315" cy="1412" r="39"/>
<circle class="o2" cx="315" cy="1412" r="22"/>
<circle class="ol" cx="315" cy="1412" r="17"/>
<circle class="o2" cx="315" cy="1412" r="9"/>
<circle class="ol" cx="315" cy="1412" r="6"/>
<use href="#xh" x="283" y="1377"/><use href="#xh" x="348" y="1377"/>
<use href="#xh" x="283" y="1445"/><use href="#xh" x="348" y="1445"/>
<circle class="ol" cx="300" cy="1400" r="1.8"/><circle class="ol" cx="330" cy="1400" r="1.8"/><circle class="ol" cx="315" cy="1431" r="1.8"/>
<rect class="o" x="304" y="1452" width="23" height="11"/>
<circle class="ol" cx="315" cy="1458" r="4"/>
<path class="c" d="M265,1412H368M315,1362V1470"/>
<path class="l" d="M275,1320V1369M356,1320V1369"/>
<path class="d" d="M275,1323H356"/>
<text class="dt" x="315" y="1319">□100</text>
<text class="dt" x="308" y="1349">4-φ9</text>
<path class="l" d="M290,1352H322"/><path class="e" d="M290,1352L283,1373"/>
<path class="l" d="M358,1412H374M327,1463H374"/>
<path class="d" d="M371,1412V1463"/>
<text class="dt" transform="translate(369,1438) rotate(-90)">63</text>
<path class="e" d="M355,1500L297,1367"/>
<text class="dt" transform="translate(352,1484) rotate(64)">φ115</text>
<circle class="ol" cx="237" cy="1482" r="7"/>
<path class="l" d="M223,1482H251M237,1469V1495"/>
<path class="l" d="M223,1492L273,1459"/>
<text class="dt" transform="translate(257,1470) rotate(-38)">φ16h6</text>
<text class="se" x="197" y="1508">SHAFT EXTENSION</text>
<text class="un" x="368" y="1537">〔重量：4.3kg〕</text>

<!-- ================= PANEL H ================= -->
<rect class="pb" x="396.5" y="1222.5" width="358" height="324"/>
<rect x="398" y="1224" width="355" height="28" fill="#c7dcf1"/>
<path class="tl" d="M594,1240H719M398,1252H753M452,1266H753M452,1279H753M398,1292H753M452,1224V1292M509,1224V1292M594,1224V1292M629,1224V1292M686,1224V1292M719,1224V1292"/>
<text class="th" x="425" y="1241.5" style="font-size:8.5px">額定運轉速度</text>
<text class="th" x="480.5" y="1241.5">額定輸出</text>
<text class="th" x="551.5" y="1241.5">型　號</text>
<text class="th" x="611.5" y="1235.5">總長</text><text class="td" x="611.5" y="1249.5">L</text>
<text class="th" x="657.5" y="1235.5">尺寸（法蘭）</text><text class="td" x="657.5" y="1249.5">LL</text>
<text class="th" x="702.5" y="1235.5" style="font-size:8px">端子部分</text><text class="td" x="702.5" y="1249.5">KB1</text>
<text class="th" x="736" y="1241.5" style="font-size:7.5px">重量 [kg]</text>
<text class="td" x="425" y="1276">3000r/min</text>
<text class="td" x="480.5" y="1262.5">1kW</text><text class="td" x="551.5" y="1262.5">GYC102D5-□B2-B</text><text class="td" x="611.5" y="1262.5">239.5</text><text class="td" x="657.5" y="1262.5">181.5</text><text class="td" x="702.5" y="1262.5">67.5</text><text class="td" x="736" y="1262.5">8.0</text>
<text class="td" x="480.5" y="1276">1,5kW</text><text class="td" x="551.5" y="1276">GYC152D5-□B2-B</text><text class="td" x="611.5" y="1276">254.5</text><text class="td" x="657.5" y="1276">196.5</text><text class="td" x="702.5" y="1276">82.5</text><text class="td" x="736" y="1276">9.8</text>
<text class="td" x="480.5" y="1289">2kW</text><text class="td" x="551.5" y="1289">GYC202D5-□B2-B</text><text class="td" x="611.5" y="1289">269.5</text><text class="td" x="657.5" y="1289">211.5</text><text class="td" x="702.5" y="1289">97.5</text><text class="td" x="736" y="1289">11</text>
<text class="un" x="744" y="1306">（單位：mm）</text>
<path class="l" d="M442,1318V1368M628,1318V1392M583,1330V1351M582,1341V1351M587,1341V1361M590,1365V1392"/>
<path class="d" d="M442,1321H628"/>
<path class="d" d="M442,1333H583"/><path class="d" d="M583,1333H628"/>
<path class="e" d="M567,1344H582"/><path class="l" d="M582,1344H587"/><path class="e" d="M597,1344H587"/>
<path class="e" d="M584,1368H590"/><path class="d" d="M590,1368H628"/>
<text class="dt" x="534" y="1318">L</text>
<text class="dt" x="512" y="1330">LL</text><text class="dt" x="604" y="1330">58</text>
<text class="dt" x="574" y="1341">12</text><text class="dt" x="590" y="1341">6</text>
<text class="dt" x="592" y="1365">2</text><text class="dt" x="608" y="1365">50</text>
<rect class="of" x="442" y="1368" width="31" height="87"/>
<rect class="dk" x="442" y="1368" width="31" height="3"/>
<rect class="o" x="467" y="1372" width="6" height="12"/><rect class="o" x="467" y="1436" width="6" height="12"/>
<rect class="o" x="443" y="1455" width="27" height="13"/>
<rect class="of" x="475" y="1351" width="98" height="101"/>
<rect class="dk" x="479" y="1357" width="94" height="5"/>
<rect class="dk" x="479" y="1440" width="94" height="11"/>
<path class="l" d="M479,1351V1452"/>
<rect class="o" x="573" y="1351" width="10" height="101"/>
<rect class="o" x="574" y="1355" width="9" height="10"/><rect class="o" x="574" y="1438" width="9" height="10"/>
<rect class="o" x="583" y="1361" width="4" height="81"/>
<rect class="o" x="587" y="1392" width="39" height="20"/>
<rect class="o" x="483" y="1452" width="27" height="10"/>
<path class="o" d="M512,1452H558V1470L548,1483H512Z"/>
<rect class="o" x="515" y="1483" width="28" height="15"/>
<path class="c" d="M415,1402H631"/>
<path class="c" d="M457,1440V1516M530,1452V1516"/>
<path class="l" d="M587,1361H640M587,1442H640"/>
<path class="d" d="M618,1392V1412"/><path class="d" d="M637,1361V1442"/>
<text class="dt" transform="translate(615,1395) rotate(-90)">φ30</text>
<text class="dt" transform="translate(635,1402) rotate(-90)">φ110h7</text>
<path class="l" d="M415,1499H515M428,1468H443"/>
<path class="d" d="M418,1402V1499"/><path class="d" d="M430,1402V1468"/>
<text class="dt" transform="translate(416,1450) rotate(-90)">(127)</text>
<text class="dt" transform="translate(428,1435) rotate(-90)">(88)</text>
<path class="l" d="M453,1468L448,1486H422"/>
<text class="lb" x="423" y="1484">信號線</text>
<path class="l" d="M544,1490L553,1498H579"/>
<text class="lb" x="554" y="1496">動力線</text>
<path class="l" d="M583,1452V1516"/>
<path class="d" d="M457,1513H530"/><path class="d" d="M530,1513H583"/>
<text class="dt" x="493" y="1510">95</text><text class="dt" x="556" y="1510">KB1</text>
<path class="o" d="M656,1351H729L743,1365V1438L729,1452H656L642,1438V1365Z"/>
<circle class="o2" cx="693" cy="1402" r="43"/>
<circle class="ol" cx="693" cy="1402" r="35"/>
<circle cx="693" cy="1402" r="25" fill="none" stroke="#333" stroke-width="11" stroke-dasharray="14.4 5.2"/>
<circle cx="693" cy="1402" r="25" fill="none" stroke="#fff" stroke-width="9.4" stroke-dasharray="13 6.6" stroke-dashoffset="-0.7"/>
<circle class="ol" cx="693" cy="1402" r="17"/>
<circle class="o2" cx="693" cy="1402" r="14"/>
<circle class="ol" cx="693" cy="1402" r="10"/>
<use href="#xh" x="653" y="1363"/><use href="#xh" x="732" y="1362"/><use href="#xh" x="653" y="1440"/><use href="#xh" x="732" y="1440"/>
<circle cx="647" cy="1374" r="3.2" fill="#fff" stroke="#222" stroke-width="1.5"/><circle cx="720" cy="1357" r="3.2" fill="#fff" stroke="#222" stroke-width="1.5"/>
<circle cx="738" cy="1428" r="3.2" fill="#fff" stroke="#222" stroke-width="1.5"/><circle cx="665" cy="1445" r="3.2" fill="#fff" stroke="#222" stroke-width="1.5"/>
<circle cx="663" cy="1386" r="3.2" fill="#fff" stroke="#222" stroke-width="1.5"/><circle cx="721" cy="1386" r="3.2" fill="#fff" stroke="#222" stroke-width="1.5"/><circle cx="693" cy="1434" r="3.2" fill="#fff" stroke="#222" stroke-width="1.5"/>
<rect class="o" x="674" y="1452" width="37" height="28"/>
<rect class="o" x="678" y="1480" width="29" height="18"/>
<path class="c" d="M635,1402H750M693,1345V1500"/>
<path class="l" d="M642,1320V1351M743,1320V1351"/>
<path class="d" d="M642,1323H743"/>
<text class="dt" x="693" y="1319">□130</text>
<text class="dt" x="716" y="1336">4-φ9</text>
<path class="l" d="M706,1339H730"/><path class="e" d="M730,1339L732,1359"/>
<path class="e" d="M743,1475L657,1352"/>
<text class="dt" transform="translate(739,1461) rotate(55)">φ145</text>
<circle class="ol" cx="614" cy="1489" r="9"/>
<path class="l" d="M596,1489H633M614,1474V1505"/>
<path class="l" d="M599,1502L647,1463"/>
<text class="dt" transform="translate(635,1473) rotate(-40)">φ24h6</text>
<text class="se" x="590" y="1527">SHAFT EXTENSION</text>
</svg>
</body></html>
